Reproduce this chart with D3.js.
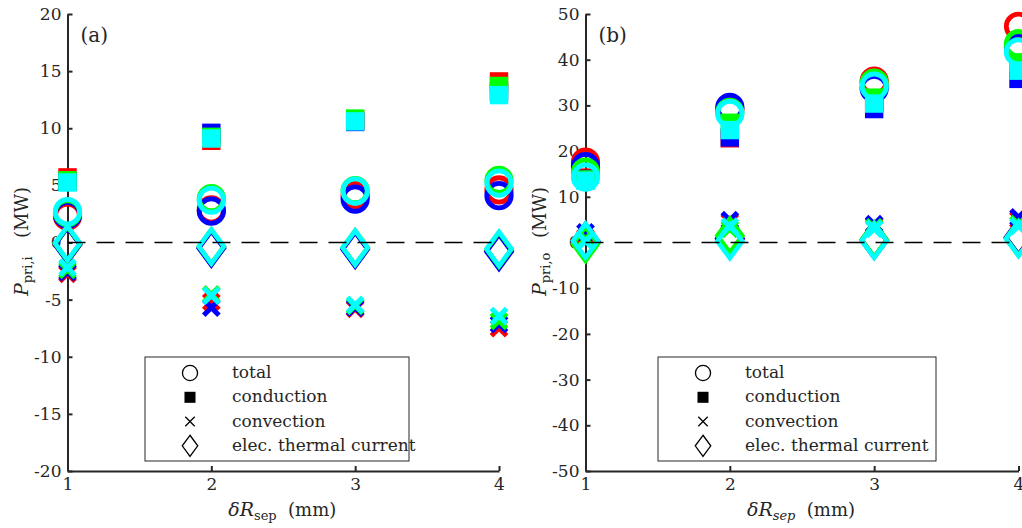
<!DOCTYPE html>
<html><head><meta charset="utf-8">
<script src="https://cdn.jsdelivr.net/npm/d3@7"></script>
<style>
body{margin:0;background:#fff}
svg{display:block}
svg text{font-family:"DejaVu Serif","Liberation Serif",serif;fill:#262626}
</style>
</head><body>
<svg id="c" width="1022" height="528"></svg>
<script>
// ---------------- data ----------------
const xValues = [1, 2, 3, 4];
const caseColors = ["#ff0000", "#0000ff", "#00ff00", "#00ffff"]; // drawing order
const legendLabels = ["total", "conduction", "convection", "elec. thermal current"];
const xTicks = [1, 2, 3, 4];
const yTicksA = [-20, -15, -10, -5, 0, 5, 10, 15, 20];
const yTicksB = [-50, -40, -30, -20, -10, 0, 10, 20, 30, 40, 50];

// panel (a): P_pri,i (MW), rows = red, blue, green, cyan
const totalA = [[2.3, 2.85, 4.1, 4.6], [2.45, 2.75, 3.8, 4.1], [2.6, 3.85, 4.55, 5.45], [2.7, 3.7, 4.5, 5.2]];
const condA  = [[5.7, 8.9, 10.7, 14.1], [5.35, 9.6, 10.55, 13.2], [5.45, 9.25, 10.85, 13.7], [5.25, 9.1, 10.6, 12.9]];
const convA  = [[-2.75, -5.2, -5.8, -7.5], [-2.6, -5.7, -5.7, -7.15], [-2.4, -4.55, -5.55, -6.85], [-2.2, -4.65, -5.45, -6.45]];
const elecA  = [[-0.15, -0.45, -0.55, -0.75], [-0.2, -0.5, -0.6, -0.8], [-0.1, -0.35, -0.45, -0.6], [-0.05, -0.35, -0.45, -0.55]];

// panel (b): P_pri,o (MW)
const totalB = [[17.6, 29.2, 35.3, 47.3], [16.6, 29.6, 33.7, 42.8], [15.4, 28.5, 34.9, 43.5], [14.3, 28.2, 34.2, 41.7]];
const condB  = [[14.2, 22.8, 30.8, 38.0], [13.9, 23.0, 29.2, 35.8], [13.8, 26.2, 31.7, 39.4], [13.5, 24.6, 30.4, 37.6]];
const convB  = [[1.2, 4.5, 3.7, 5.0], [2.2, 4.9, 4.0, 5.5], [0.8, 3.0, 3.3, 4.0], [0.3, 3.5, 3.0, 3.6]];
const elecB  = [[0.2, 0.8, 0.5, 1.0], [0.3, 0.9, 0.5, 1.1], [-0.3, 1.5, 0.6, 0.9], [0.4, 0.3, 0.4, 0.8]];

// ---------------- drawing ----------------
const FONT = '"DejaVu Serif","Liberation Serif",serif';
const svg = d3.select("#c");
svg.append("rect").attr("width", 1022).attr("height", 528).attr("fill", "#fff");
const AX = "#262626";

function drawMarker(g, type, cx, cy, col, s) {
  s = s || 1;
  if (type === 0) {
    g.append("circle").attr("cx", cx).attr("cy", cy).attr("r", 12.2 * s)
      .attr("fill", "none").attr("stroke", col).attr("stroke-width", s === 1 ? 4.8 : 1.3);
  } else if (type === 1) {
    const h = 9.2 * s;
    g.append("rect").attr("x", cx - h).attr("y", cy - h).attr("width", 2 * h).attr("height", 2 * h).attr("fill", col);
  } else if (type === 2) {
    const a = 7.6 * s;
    g.append("path").attr("d", `M${cx - a},${cy - a}L${cx + a},${cy + a}M${cx - a},${cy + a}L${cx + a},${cy - a}`)
      .attr("stroke", col).attr("stroke-width", s === 1 ? 5 : 1.3).attr("fill", "none");
  } else {
    const w = 12.5 * s, h = 17 * s;
    g.append("path").attr("d", `M${cx},${cy - h}L${cx + w},${cy}L${cx},${cy + h}L${cx - w},${cy}Z`)
      .attr("fill", "none").attr("stroke", col).attr("stroke-width", s === 1 ? 4.5 : 1.3).attr("stroke-linejoin", "miter");
  }
}

function panel(cfg) {
  const x = d3.scaleLinear().domain([1, 4]).range([cfg.x0, cfg.x1]);
  const y = d3.scaleLinear().domain(cfg.ydom).range([471, 14]);
  const g = svg.append("g").attr("font-family", FONT);

  // axes
  const ya = d3.axisLeft(y).tickValues(cfg.yticks).tickFormat(d => String(d))
    .tickSizeInner(-5).tickSizeOuter(0).tickPadding(6);
  const gy = g.append("g").attr("transform", `translate(${cfg.x0},0)`).call(ya);
  const xa = d3.axisBottom(x).tickValues(xTicks).tickFormat(d => String(d))
    .tickSizeInner(-5).tickSizeOuter(0).tickPadding(7);
  const gx = g.append("g").attr("transform", `translate(0,471)`).call(xa);
  [gy, gx].forEach(a => {
    a.attr("font-family", FONT).attr("font-size", 17);
    a.select(".domain").attr("stroke", AX).attr("stroke-width", 2);
    a.selectAll(".tick line").attr("stroke", AX).attr("stroke-width", 2);
    a.selectAll(".tick text").attr("fill", AX).style("font-size", "17px").style("font-family", FONT);
  });

  // markers
  const sets = cfg.sets;
  caseColors.forEach((col, ci) => {
    sets.forEach((arr, ti) => {
      arr[ci].forEach((v, i) => drawMarker(g, ti, x(xValues[i]), y(v), col));
    });
  });

  // dashed zero line
  g.append("line").attr("x1", x(1)).attr("x2", x(4)).attr("y1", y(0)).attr("y2", y(0))
    .attr("stroke", "#000").attr("stroke-width", 1.5).attr("stroke-dasharray", "18,11");

  // panel label
  g.append("text").attr("x", cfg.x0 + 13).attr("y", 42).style("font-size", "20px").text(cfg.tag);

  // y label
  const yl = g.append("g").attr("transform", `translate(${cfg.x0 - 39.5},296) rotate(-90)`);
  const t1 = yl.append("text").attr("x", 0).attr("y", 0).style("font-size", "19px");
  t1.append("tspan").style("font-style", "italic").text("P");
  t1.append("tspan").attr("dy", 4).style("font-size", "13px").text(cfg.ysub);
  yl.append("text").attr("x", 109).attr("y", 0).attr("text-anchor", "end").style("font-size", "18px").text("(MW)");

  // x label
  const xm = (cfg.x0 + cfg.x1) / 2;
  const t2 = g.append("text").attr("x", xm - 55).attr("y", 516).style("font-size", "19px");
  t2.append("tspan").style("font-style", "italic").text("δR");
  t2.append("tspan").attr("dy", 4).style("font-size", "13px").style("font-style", cfg.subItalic ? "italic" : "normal").text("sep");
  g.append("text").attr("x", xm + 53).attr("y", 516).attr("text-anchor", "end").style("font-size", "18px").text("(mm)");

  // legend
  const lg = g.append("g");
  lg.append("rect").attr("x", cfg.lx).attr("y", 357).attr("width", cfg.lw).attr("height", 104)
    .attr("fill", "#fff").attr("stroke", AX).attr("stroke-width", 1);
  const rows = [373, 397.3, 421.5, 445.8];
  legendLabels.forEach((lab, i) => {
    drawMarker(lg, i, cfg.lx + 45, rows[i], "#000", i === 1 ? 0.6 : 0.62);
    lg.append("text").attr("x", cfg.lx + 87).attr("y", rows[i] + 5).style("font-size", "17px").text(lab);
  });
}

panel({x0: 67.5, x1: 499, ydom: [-20, 20], yticks: yTicksA, sets: [totalA, condA, convA, elecA],
       tag: "(a)", ysub: "pri,i", subItalic: false, lx: 145, lw: 264});
panel({x0: 585.5, x1: 1018.5, ydom: [-50, 50], yticks: yTicksB, sets: [totalB, condB, convB, elecB],
       tag: "(b)", ysub: "pri,o", subItalic: true, lx: 658, lw: 278});
</script>
</body></html>
